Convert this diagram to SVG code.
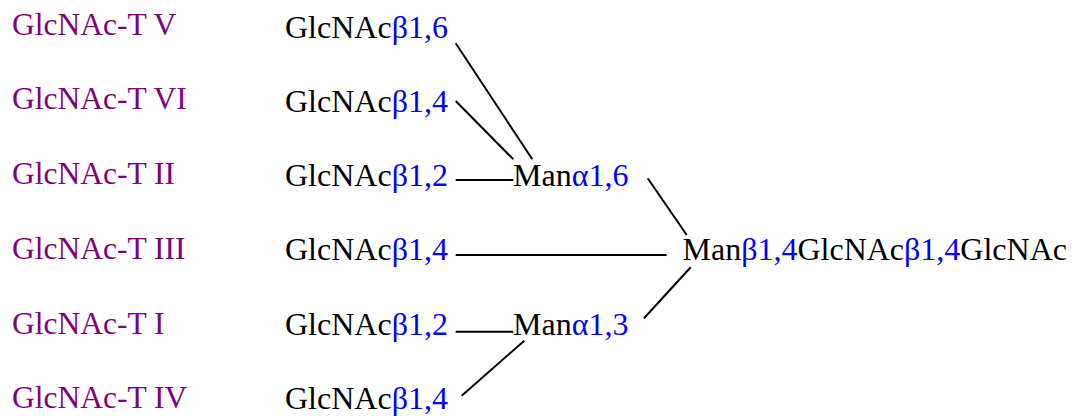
<svg xmlns="http://www.w3.org/2000/svg" width="1074" height="416" viewBox="0 0 1074 416">
<style>
text{font-family:"Liberation Serif","Times New Roman",serif;font-size:32px;fill:#000}
.enz{fill:#800080;font-size:31.5px}
.lk{fill:#0000ff}
.conn line{stroke:#000;stroke-width:2;fill:none}
</style>
<rect width="1074" height="416" fill="#fff"/>
<g id="enzymes">
<text class="enz" x="12" y="35">GlcNAc-T V</text>
<text class="enz" x="12" y="109">GlcNAc-T VI</text>
<text class="enz" x="12" y="184">GlcNAc-T II</text>
<text class="enz" x="12" y="259">GlcNAc-T III</text>
<text class="enz" x="12" y="334">GlcNAc-T I</text>
<text class="enz" x="12" y="408">GlcNAc-T IV</text>
</g>
<g id="n_glcnac_b16"><text x="285" y="37.5">GlcNAc<tspan class="lk">β1,6</tspan></text></g>
<g id="n_glcnac_b14a"><text x="285" y="111.5">GlcNAc<tspan class="lk">β1,4</tspan></text></g>
<g id="n_glcnac_b12a"><text x="285" y="185.5">GlcNAc<tspan class="lk">β1,2</tspan></text></g>
<g id="n_glcnac_b14b"><text x="285" y="260">GlcNAc<tspan class="lk">β1,4</tspan></text></g>
<g id="n_glcnac_b12b"><text x="285" y="335">GlcNAc<tspan class="lk">β1,2</tspan></text></g>
<g id="n_glcnac_b14c"><text x="285" y="409">GlcNAc<tspan class="lk">β1,4</tspan></text></g>
<g id="n_man_a16"><text x="513" y="185.5">Man<tspan class="lk">α1,6</tspan></text></g>
<g id="n_man_a13"><text x="513" y="335">Man<tspan class="lk">α1,3</tspan></text></g>
<g id="n_core"><text x="682.5" y="260">Man<tspan class="lk">β1,4</tspan>GlcNAc<tspan class="lk">β1,4</tspan>GlcNAc</text></g>
<g id="connectors" class="conn">
<line x1="455.7" y1="43.3" x2="532.3" y2="159.3"/>
<line x1="455.7" y1="101" x2="513.3" y2="159.3"/>
<line x1="455.7" y1="180" x2="513.3" y2="180"/>
<line x1="647.7" y1="178.3" x2="686.7" y2="235"/>
<line x1="455.7" y1="255" x2="666.7" y2="255"/>
<line x1="644" y1="318.3" x2="690.7" y2="267.3"/>
<line x1="455.7" y1="331.7" x2="513.3" y2="331.7"/>
<line x1="461.7" y1="395.7" x2="524.3" y2="340.7"/>
</g>
</svg>
